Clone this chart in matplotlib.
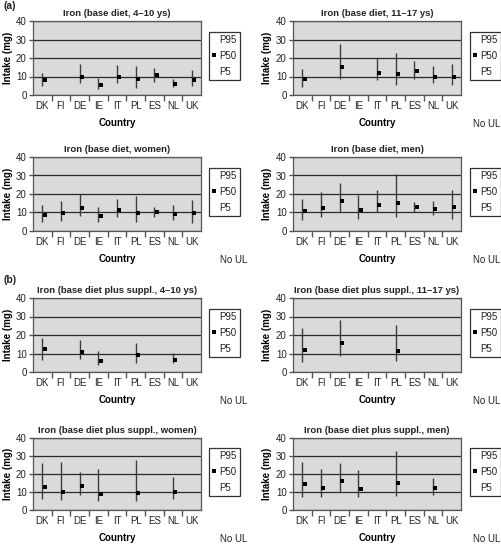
import numpy as np
import matplotlib
matplotlib.use("Agg")
import matplotlib.pyplot as plt
from matplotlib.lines import Line2D

plt.rcParams['font.family'] = ['Liberation Sans', 'DejaVu Sans']
plt.rcParams['text.color'] = '#222222'

nan = np.nan
countries = ['DK', 'FI', 'DE', 'IE', 'IT', 'PL', 'ES', 'NL', 'UK']

# base diet
base_kids_p5 = [5, nan, 6.5, 3.5, 6.5, 4, 7, 4.5, 5]
base_kids_p50 = [8, nan, 10, 5.5, 9.5, 8.5, 11, 6.2, 8]
base_kids_p95 = [12, nan, 17, 9.2, 16, 15.5, 14.5, 8.7, 13.5]

base_teen_p5 = [4.3, nan, 8.5, nan, 8.3, 5.5, 8.9, 6.6, 5.5]
base_teen_p50 = [8.9, nan, 14.9, nan, 12.1, 11.1, 13, 10, 9.6]
base_teen_p95 = [14.2, nan, 27.7, nan, 20, 22.5, 18.3, 15.5, 16.8]

base_women_p5 = [5.1, 5.5, 8.1, 4.6, 7.3, 4.8, 7.3, 5.7, 4.4]
base_women_p50 = [8.7, 9.5, 12.6, 8.1, 11.4, 9.5, 10.1, 9.2, 9.5]
base_women_p95 = [13.8, 16, 20, 12.9, 17.4, 18.7, 12.9, 13.8, 16.5]

base_men_p5 = [6.2, 7.3, 10, 6.6, 10, 7.3, 10, 8.8, 6.6]
base_men_p50 = [11, 12.5, 16.1, 11.6, 13.8, 14.9, 12.8, 12, 12.8]
base_men_p95 = [17.4, 21.1, 26, 19.3, 22, 30.8, 15.8, 16.1, 22]

# base diet plus supplements
supp_kids_p5 = [6.4, nan, 6.9, 4, nan, 5.1, nan, 4.9, nan]
supp_kids_p50 = [12.4, nan, 10.9, 6, nan, 9.1, nan, 6.7, nan]
supp_kids_p95 = [18.5, nan, 17.3, 11.3, nan, 15.5, nan, 10.4, nan]

supp_teen_p5 = [5.5, nan, 8.7, nan, nan, 6, nan, nan, nan]
supp_teen_p50 = [11.8, nan, 15.5, nan, nan, 11.5, nan, nan, nan]
supp_teen_p95 = [23.6, nan, 28.2, nan, nan, 25.5, nan, nan, nan]

supp_women_p5 = [6.1, 5.5, 8.3, 5.2, nan, 5.2, nan, 5.9, nan]
supp_women_p50 = [12.9, 10.1, 13.3, 8.7, nan, 9.2, nan, 10, nan]
supp_women_p95 = [26.2, 26.8, 21, 23, nan, 28, nan, 18.1, nan]

supp_men_p5 = [7, 7.3, 10, 7, nan, 7.7, nan, 8.4, nan]
supp_men_p50 = [14.3, 12.3, 16.1, 11.7, nan, 14.9, nan, 12.5, nan]
supp_men_p95 = [26.6, 22.8, 26, 22.4, nan, 32.8, nan, 18, nan]

panels = [
    ('Iron (base diet, 4\u201310 ys)', base_kids_p5, base_kids_p50, base_kids_p95, False),
    ('Iron (base diet, 11\u201317 ys)', base_teen_p5, base_teen_p50, base_teen_p95, True),
    ('Iron (base diet, women)', base_women_p5, base_women_p50, base_women_p95, True),
    ('Iron (base diet, men)', base_men_p5, base_men_p50, base_men_p95, True),
    ('Iron (base diet plus suppl., 4\u201310 ys)', supp_kids_p5, supp_kids_p50, supp_kids_p95, True),
    ('Iron (base diet plus suppl., 11\u201317 ys)', supp_teen_p5, supp_teen_p50, supp_teen_p95, True),
    ('Iron (base diet plus suppl., women)', supp_women_p5, supp_women_p50, supp_women_p95, True),
    ('Iron (base diet plus suppl., men)', supp_men_p5, supp_men_p50, supp_men_p95, True),
]

W, H = 501, 550
fig = plt.figure(figsize=(W / 100, H / 100), dpi=100)

rows = [(21, 95), (157, 231), (298, 372), (438, 510)]
cols = [(33, 201), (293, 461)]
ylab_x = [13, 272]      # right edge of the rotated y label
legend_x = [209, 470]
noul_x = [247, 500]

x = np.arange(len(countries))
edge = '#555555'

for i, (title, p5, p50, p95, no_ul) in enumerate(panels):
    top, bot = rows[i // 2]
    left, right = cols[i % 2]
    w, h = right - left, bot - top
    ax = fig.add_axes([left / W, 1 - bot / H, w / W, h / H])
    ax.set_facecolor('#dadada')

    p5 = np.array(p5)
    p50 = np.array(p50)
    p95 = np.array(p95)
    ax.vlines(x, p5, p95, color='#3c3c3c', lw=1.0, zorder=3)
    ax.plot(x + 0.12, p50, 's', color='black', ms=2.3, mew=0, zorder=4)

    ax.set_xlim(-0.5, len(countries) - 0.5)
    ax.set_ylim(0, 40)
    ax.set_yticks([0, 10, 20, 30, 40])
    ax.grid(axis='y', color='#2a2a2a', lw=0.9, zorder=1)
    ax.set_axisbelow(True)

    ax.set_xticks(np.arange(0.5, len(countries) - 1, 1.0))
    ax.set_xticklabels([])
    ax.set_xticks(x, minor=True)
    ax.set_xticklabels(countries, minor=True)
    ax.tick_params(axis='x', which='major', direction='out', length=4, width=1, color=edge)
    ax.tick_params(axis='x', which='minor', length=0, pad=4, labelsize=7, labelcolor='#222222')
    ax.tick_params(axis='y', direction='out', length=3, width=1, color=edge, pad=1.5,
                   labelsize=7, labelcolor='#222222')
    for s in ax.spines.values():
        s.set_color(edge)
        s.set_linewidth(0.9)

    ax.set_title(title, fontsize=6.8, fontweight='bold', pad=3.5)
    ax.set_xlabel('Country', fontsize=7, fontweight='bold')
    ax.xaxis.set_label_coords(0.5, -23 / h)
    ax.set_ylabel('Intake (mg)', fontsize=7, fontweight='bold')
    ax.yaxis.set_label_coords((ylab_x[i % 2] - left) / w, 0.5)

    handles = [Line2D([], [], ls='none'),
               Line2D([], [], ls='none', marker='s', color='black', ms=2.3, mew=0),
               Line2D([], [], ls='none')]
    leg = ax.legend(handles, ['P95', 'P50', 'P5'], loc='center left',
                    bbox_to_anchor=((legend_x[i % 2] - left) / w, 0.53),
                    fontsize=7, frameon=True, fancybox=False, framealpha=1, edgecolor='#333333',
                    handlelength=0.3, handletextpad=0.4, borderpad=0.35, labelspacing=0.6,
                    borderaxespad=0)
    leg.get_frame().set_linewidth(0.9)

    if no_ul:
        ax.text((noul_x[i % 2] - left) / w, -29 / h, 'No UL', transform=ax.transAxes,
                ha='right', va='center', fontsize=7)

fig.text(3 / W, 1 - 6 / H, '(a)', fontsize=7.5, fontweight='bold', va='center', ha='left')
fig.text(3 / W, 1 - 280 / H, '(b)', fontsize=7.5, fontweight='bold', va='center', ha='left')

fig.savefig('out.png', dpi=100)
